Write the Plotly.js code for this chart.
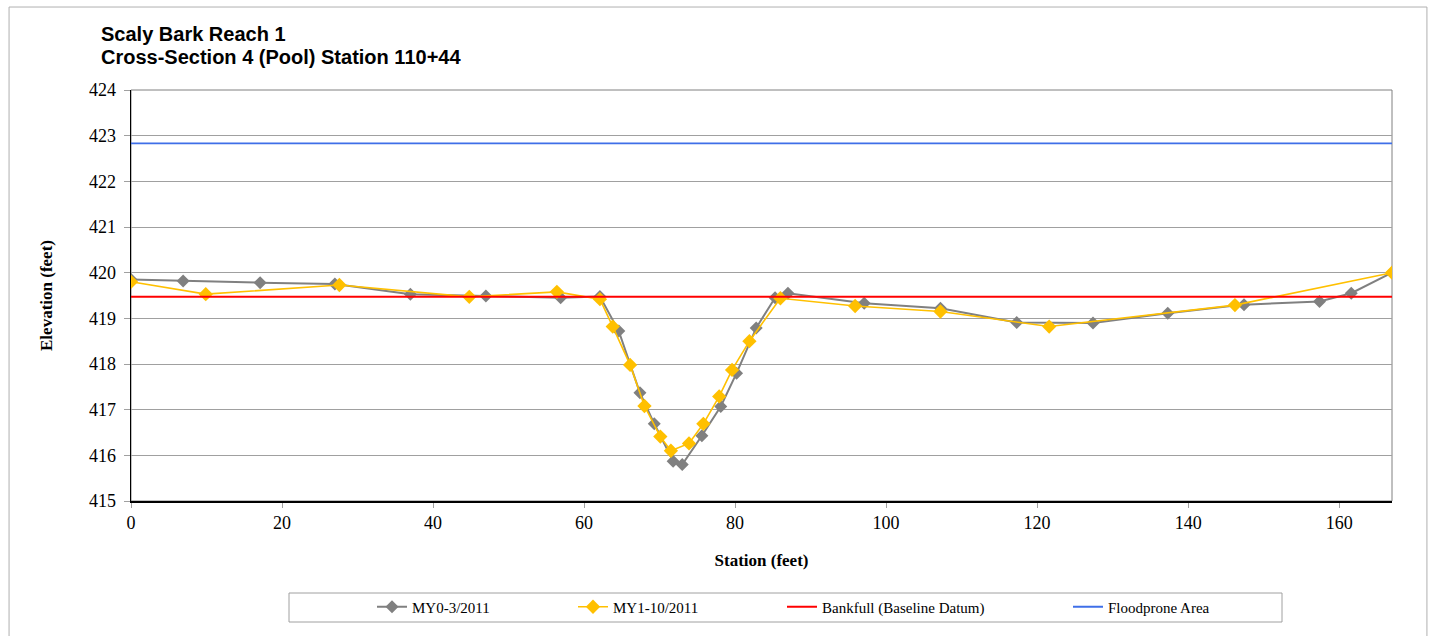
<!DOCTYPE html>
<html>
<head>
<meta charset="utf-8">
<script src="https://cdn.plot.ly/plotly-3.0.1.min.js"></script>
<style>html,body{margin:0;padding:0;background:#fff;}#chart{width:1437px;height:636px;}</style>
</head>
<body>
<div id="chart"></div>
<script>
const my0Station = [0, 6.9, 17.1, 27, 37, 47, 56.9, 62.1, 64.6, 67.4, 69.3, 71.8, 73, 75.6, 78.1, 80.2, 82.8, 85.3, 87, 97.1, 107.2, 117.3, 127.4, 137.3, 147.4, 157.4, 161.6, 167];
const my0Elev = [419.85, 419.82, 419.78, 419.75, 419.53, 419.49, 419.45, 419.48, 418.72, 417.37, 416.69, 415.87, 415.8, 416.43, 417.07, 417.8, 418.79, 419.45, 419.55, 419.33, 419.22, 418.91, 418.9, 419.11, 419.3, 419.37, 419.55, 420.0];
const my1Station = [0, 9.9, 27.6, 44.8, 56.4, 62.1, 63.8, 66.1, 68, 70.1, 71.5, 73.9, 75.8, 77.9, 79.6, 81.9, 86, 95.9, 107.2, 121.6, 146.2, 167];
const my1Elev = [419.8, 419.53, 419.73, 419.47, 419.58, 419.42, 418.82, 417.98, 417.08, 416.41, 416.1, 416.26, 416.69, 417.29, 417.87, 418.5, 419.44, 419.27, 419.15, 418.82, 419.29, 420.0];
const bankfullStation = [0, 167];
const bankfullElev = [419.47, 419.47];
const floodStation = [0, 167];
const floodElev = [422.83, 422.83];
const seriesNames = ["MY0-3/2011", "MY1-10/2011", "Bankfull (Baseline Datum)", "Floodprone Area"];
const titleLines = ["Scaly Bark Reach 1", "Cross-Section 4 (Pool) Station 110+44"];

const serif = "Liberation Serif, Times New Roman, serif";
const sans = "Liberation Sans, Arial, sans-serif";

const traces = [
  {x: my0Station, y: my0Elev, name: seriesNames[0], mode: "lines+markers", legend: "legend",
   line: {color: "#808080", width: 2}, marker: {symbol: "diamond", size: 10, color: "#808080"}},
  {x: my1Station, y: my1Elev, name: seriesNames[1], mode: "lines+markers", legend: "legend2",
   line: {color: "#FFC000", width: 1.6}, marker: {symbol: "diamond", size: 11, color: "#FFC000"}},
  {x: bankfullStation, y: bankfullElev, name: seriesNames[2], mode: "lines", legend: "legend3",
   line: {color: "#FF0000", width: 2}},
  {x: floodStation, y: floodElev, name: seriesNames[3], mode: "lines", legend: "legend4",
   line: {color: "#3F6FE8", width: 1.8}}
];

const px = v => (v - 131) / 1261;
const py = v => (501 - v) / 411;
function leg(xpx) {
  return {orientation: "h", x: px(xpx), xanchor: "left", y: py(607), yanchor: "middle",
    bgcolor: "rgba(0,0,0,0)", borderwidth: 0,
    font: {family: serif, size: 15, color: "#000"}};
}

const layout = {
  width: 1437, height: 636,
  paper_bgcolor: "#ffffff", plot_bgcolor: "#ffffff",
  margin: {l: 131, r: 45, t: 90, b: 135},
  xaxis: {
    range: [0, 167], tickvals: [0, 20, 40, 60, 80, 100, 120, 140, 160],
    showgrid: false, zeroline: false,
    showline: true, linecolor: "#000", linewidth: 1.5,
    ticks: "outside", ticklen: 5, tickcolor: "#a0a0a0",
    tickfont: {family: serif, size: 18, color: "#000"},
    title: {text: "<b>Station (feet)</b>", font: {family: serif, size: 17, color: "#000"}, standoff: 22},
    automargin: false
  },
  yaxis: {
    range: [415, 424], dtick: 1,
    showgrid: true, gridcolor: "#a0a0a0", gridwidth: 1, zeroline: false,
    showline: true, linecolor: "#000", linewidth: 1.5,
    ticks: "outside", ticklen: 6, tickcolor: "#a0a0a0", ticklabelstandoff: 4,
    tickfont: {family: serif, size: 18, color: "#000"},
    title: {text: "<b>Elevation (feet)</b>", font: {family: serif, size: 17, color: "#000"}, standoff: 32},
    automargin: false
  },
  showlegend: true,
  legend: leg(372),
  legend2: leg(573),
  legend3: leg(782),
  legend4: leg(1068),
  annotations: [
    {text: "<b>" + titleLines[0] + "</b>", xref: "paper", yref: "paper", x: px(99), y: py(34),
     xanchor: "left", yanchor: "middle", showarrow: false, font: {family: sans, size: 20, color: "#000"}},
    {text: "<b>" + titleLines[1] + "</b>", xref: "paper", yref: "paper", x: px(99), y: py(57),
     xanchor: "left", yanchor: "middle", showarrow: false, font: {family: sans, size: 20, color: "#000"}}
  ],
  shapes: [
    {type: "rect", xref: "paper", yref: "paper", x0: 0, x1: 1, y0: 0, y1: 1,
     line: {color: "#808080", width: 1}, layer: "below"},
    {type: "rect", xref: "paper", yref: "paper", x0: -0.0967, x1: 1.0277, y0: -0.345, y1: 1.2019,
     line: {color: "#b0b0b0", width: 1}, layer: "below"},
    {type: "rect", xref: "paper", yref: "paper", x0: px(289), x1: px(1282), y0: py(622), y1: py(593),
     line: {color: "#a0a0a0", width: 1}, layer: "below"}
  ]
};

Plotly.newPlot("chart", traces, layout, {displayModeBar: false, staticPlot: true});
</script>
</body>
</html>
